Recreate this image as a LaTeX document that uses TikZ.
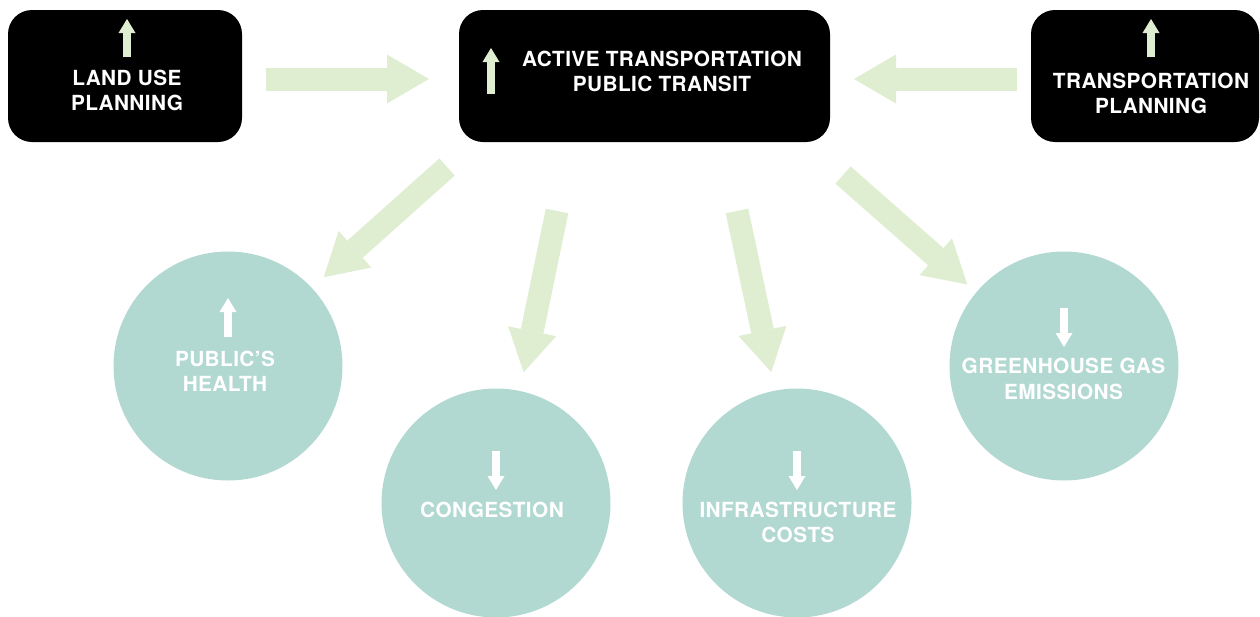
\documentclass[tikz,border=0pt]{standalone}
\usepackage{fontspec}
\usepackage{tikz}
\usetikzlibrary{arrows.meta,positioning}
\newfontfamily\heros{TeX Gyre Heros}[LetterSpace=2]
\definecolor{leaf}{HTML}{DFEDD0}
\definecolor{sea}{HTML}{B1D8D1}

\begin{document}
\begin{tikzpicture}[line cap=butt,line join=miter,x=1pt,y=-1pt,
  box/.style={fill=black,rounded corners=24pt,minimum height=132pt,inner sep=0pt,outer sep=0pt},
  bubble/.style={circle,fill=sea,minimum size=229pt,inner sep=0pt,outer sep=0pt},
  tag/.style={text=white,align=center,inner sep=0pt,font=\heros\bfseries\fontsize{20.8}{25.5}\selectfont},
  fat/.style={draw=leaf,line width=23pt,-{Triangle[length=42pt,width=49pt,line width=0pt]}},
  tick/.style={line width=8pt,-{Triangle[length=14pt,width=17pt,line width=0pt]}}]
\useasboundingbox (0,0) rectangle (1260,616);
\clip (0,0) rectangle (1260,616);
% boxes and bubbles
\node[box,minimum width=234pt] (land) at (125,76) {};
\node[box,minimum width=371pt] (active) at (644.5,76) {};
\node[box,minimum width=228pt] (plan) at (1145,76) {};
\node[bubble] (health) at (228,366) {};
\node[bubble] (jam) at (496,503) {};
\node[bubble] (infra) at (797,503) {};
\node[bubble] (ghg) at (1064,366) {};
% labels
\node[tag] (land-t) at (127,90.5) {LAND USE\\PLANNING};
\node[tag] (active-t) at (662,71.5) {ACTIVE TRANSPORTATION\\PUBLIC TRANSIT};
\node[tag] (plan-t) at (1151,93.5) {TRANSPORTATION\\PLANNING};
\node[tag] (health-t) at (225,371.5) {PUBLIC’S\\HEALTH};
\node[tag] (jam-t) at (492,510) {CONGESTION};
\node[tag] (infra-t) at (798,522.5) {INFRASTRUCTURE\\COSTS};
\node[tag] (ghg-t) at (1063.5,379) {GREENHOUSE GAS\\EMISSIONS};
% up and down marks
\draw[tick,leaf] (127,57) -- (127,19);
\draw[tick,leaf] (491,94) -- (491,48);
\draw[tick,leaf] (1151,57) -- (1151,19);
\draw[tick,white] (228,337) -- (228,298);
\draw[tick,white] (496,451) -- (496,490);
\draw[tick,white] (797,451) -- (797,490);
\draw[tick,white] (1064,308) -- (1064,347);
% big arrows
\draw[fat] ([shift={(24,3)}]land.east) -- ([shift={(-30,3)}]active.west);
\draw[fat] ([shift={(-14,3)}]plan.west) -- ([shift={(24,3)}]active.east);
\draw[fat,shorten >=16pt] ([shift={(-12,25)}]active.south west) -- (health.43);
\draw[fat,shorten >=19pt] ([shift={(-87.5,69)}]active.south) -- (jam.78);
\draw[fat,shorten >=19pt] ([shift={(92.5,69)}]active.south) -- (infra.101);
\draw[fat,shorten >=12pt] ([shift={(13,33)}]active.south east) -- (ghg.140);
\end{tikzpicture}
\end{document}
